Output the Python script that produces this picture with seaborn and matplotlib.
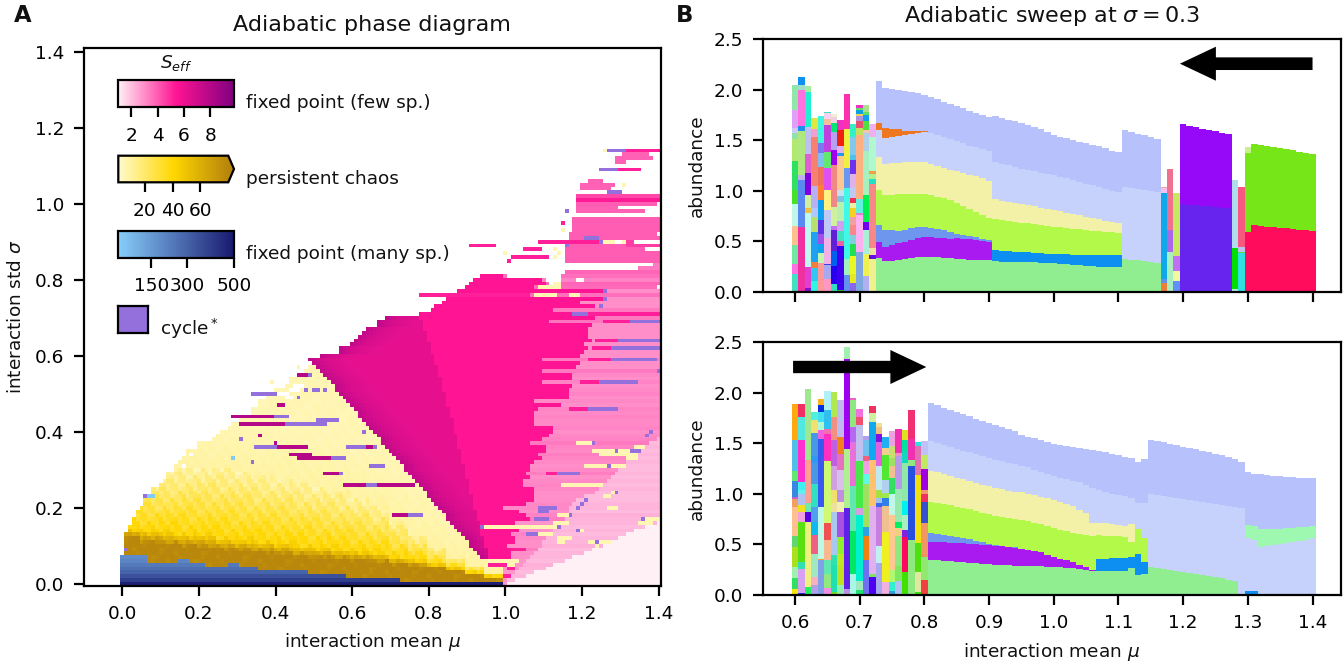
import numpy as np
import matplotlib
matplotlib.use("Agg")
import matplotlib.pyplot as plt
from matplotlib.cm import ScalarMappable
from matplotlib.colors import LinearSegmentedColormap, ListedColormap, Normalize
import seaborn as sns

# ---------- left panel data: rows are sigma*100, columns are mu*100 ----------
chaos_left = [0,0,0,0,0,0,0,0,1,1,1,1,1,1,2,2,3,3,4,4,5,6,6,7,8,8,10,11,12,12,14,14,15,16,17,17,20,20,24,25,
              26,28,29,31,32,34,34,36,36,38,39,40,43,44,44,47,48,49]
chaos_right = [100,100,100,100,100,100,100,94,93,92,91,91,90,89,88,87,86,85,85,84,83,82,81,80,80,79,78,77,76,75,
               74,74,73,72,71,70,69,68,68,67,66,65,64,63,62,62,61,60,59,58,57,56,56,55,54,53,52,51,50,49]
magenta_left = [52,57,57,60,61,62,63,64,67,67,69,78,81,82,84,85,86,88,90,91,92,94]
hot_right = [100,100,100,100,100,100,100,102,102,102,101,103,103,102,104,94,103,107,106,104,100,106,108,108,108,108,
             105,105,107,106,107,107,108,110,109,111,111,107,110,112,113,113,108,108,108,108,109,115,108,117,
             117,117,118,110,118,118,110,119,120,110,120,121,122,121,123,122,122,122,123,112,124,141,113,124,120,126,107,126,108,111,110,100]
deep_edge = [96,96,96,95,95,95,94,94,94,94,93,93,93,92,92,92,92,91,91,91,91,90,90,90,90,89,89,89,89,88,88,88,88,87,87,87,87,
             86,86,86,85,85,85,85,84,84,84,84,83,83,83,82,82,82,81,81,81,80,80,80,79,79,79,78]
pink_shade = [2.9,2.9,2.9,2.9,2.9,2.9,2.9,3.0,3.0,3.3,3.0,3.0,3.1,3.2,2.9,3.0,2.9,3.3,3.2,3.0,3.1,3.1,3.0,3.0,3.0,3.1,
              3.2,3.1,3.0,3.3,3.1,3.0,3.1,3.2,3.3,3.1,3.2,3.4,3.2,3.1,3.0,3.2,3.1,3.1,3.2,3.1,3.2,3.0,3.1,3.0,
              3.2,3.1,3.0,3.2,3.0,3.1,3.4,3.0,3.0,3.4,3.0,3.0,3.0,3.0,3.0,3.0,3.0,3.0,3.0,3.5,3.4,3.0,3.4,3.0,3.0,3.0,3.6,3.0,3.7,3.8,3.2,3.6]
light_left = [101,101,102,103,104,105,106,107,108,109,110,110,111,112,113,114,115,116,116,117,117,118,119,121,124,125,
              126,127,128,129,130,131,132,133,134,135,137,138,140]
light_shade = [2.1,2.1,2.2,2.1,2.2,2.3,2.1,2.2,2.2,2.1,2.3,2.2,2.2,2.1,2.2,2.1,2.2,2.2,2.3,2.1,2.2,2.2,2.1,2.1,2.1,2.2,
               2.1,2.2,2.1,2.2,2.1,2.1,2.2,2.1,2.2,2.1,2.2,2.1,2.2]
pale_left = [101,103,106,108,111,113,116,118,121,123,126,128,130,132,134,137,140]
edge_shade = [7.6,7.3,7.1,6.9,6.8,6.7,6.6,6.5,6.45,6.4,6.35]
deep_shade = 6.3
hot_shade = 5.45

blue_end = [7,15,18,22,28,31,36,49,59,73,100]
blue_top = [8,6,7,6,5,6,5,4,3,2,1]
blue_rows = [485,400,350,300,270,240,210,190]
brown_top = [12,10.5,10,9.6,9.2,8.6,8.2,7.8,7.2,6.8,6.4,6.2,5.9,5.5,4.8,4.6,4,3.2,2.4,1.6,1]
gold_top = [14.5,14,13.5,13,12.7,12,11.5,11.2,10.7,10,9.5,9,8.5,8,7,6.2,5.2,4.2,3,2,1.2]
fade_top = [27,29,30,31,31,31,30,29,28,27,26,25,23,21,17,13,10,7,5,3,2]
speckle = [0,3,-2,4,-3,1,-4,2,-1,3,-3,0,2,-2,4,-1,1,-4,3,-2,0,2,-3,1]

cycle_runs = [(55,49,50),(50,34,41),(51,48,49),(51,50,52),(51,53,54),(49,46,47),(44,40,44),(43,51,57),(42,43,54),
              (40,63,64),(38,31,32),(36,35,41),(36,59,64),(36,66,67),(33,55,59),(32,34,35),(31,65,69),(29,57,58),
              (26,64,67),(23,6,7),(9,1,2),(18,75,79),(62,128,141),(59,128,140),(56,140,141),(53,125,135),(46,122,130),
              (40,138,139),(39,137,138),(37,123,124),(35,129,130),(35,133,136),(31,127,128),(29,114,120),(24,129,130),
              (22,121,122),(21,120,121),(20,109,114),(20,119,120),(19,109,112),(18,117,118),(17,108,112),(17,136,137),
              (15,94,95),(15,114,115),(14,119,120),(13,106,109),(11,124,125),(114,127,132),(109,125,130),(103,127,131),
              (98,116,117),(91,121,125),(90,125,126),(89,116,117),(77,126,127),(75,126,127),(73,125,126),(71,118,122),
              (69,133,141),(64,130,141)]
cream_runs = [(37,119,123),(36,134,137),(35,123,129),(35,130,133),(34,125,135),(33,132,135),(31,121,127),(31,128,132),
              (26,115,126),(24,128,129),(23,126,128),(20,127,130),(18,114,117),(17,137,141),(16,113,117),(16,135,139),
              (15,95,114),(14,120,121),(13,109,113),(12,114,118),(11,114,116),(11,122,124),(11,125,128),(10,124,125),
              (6,96,104),(5,101,103),(76,108,114),(76,117,120),(78,109,115),(90,126,129),(90,131,132),(86,113,114),
              (88,113,114),(87,114,115),(93,115,116),(105,131,132),(114,126,127),(87,100,101),(81,106,107),(81,112,113),
              (79,113,115),(80,113,114),(57,46,47),(53,39,40),(45,34,35)]
blank_runs = [(81,101,115),(80,111,115),(79,112,113),(80,119,121),(78,140,141),(92,140,141),(31,16,17),(34,18,19),
              (50,41,44),(51,44,47),(52,45,48),(49,43,45)]
deep_runs = [(55,46,49),(47,41,43),(44,29,40),(42,31,43),(39,36,37),(37,40,41),(36,41,49),(36,64,66),(34,44,50),
             (33,46,55),(29,53,57),(26,58,64),(26,67,77),(18,71,75)]
hot_runs = [(114,132,141),(109,130,136),(90,109,125),(89,91,98),(88,105,110),(86,102,112),(85,101,102),(95,115,116),
            (76,78,107),(69,126,133),(64,124,130),(62,123,128),(59,122,128),(53,120,125),(46,117,122),(29,111,114),
            (9,102,106),(5,96,101),(4,101,103),(2,100,102),(71,122,141)]
pink_runs = [(113,131,138,3.9),(112,129,139,3.9),(111,129,132,3.9),(106,122,126,3.9),(105,120,129,3.9),(104,120,128,3.9),
             (102,119,141,4.4),(101,119,141,5.3),(100,119,140,4.0),(99,119,130,3.9),(98,119,137,3.9),(96,118,141,4.0),
             (95,118,141,4.0),(94,118,141,4.0),(93,118,141,4.0),(92,117,140,4.0),(91,117,121,4.0),(91,125,141,4.0),
             (89,117,132,4.0),(89,132,141,4.6),(88,116,137,4.0),(87,116,141,4.0),(86,116,141,4.0),(85,116,141,4.0),
             (84,139,141,3.4),(83,135,141,3.4),(82,116,141,3.8),(90,132,134,4.6)]

# ---------- right panels: mu axis and the smooth species stacks ----------
mu_bars = [round(0.6 + 0.01 * i, 2) for i in range(81)]

# upper panel: cumulative top per bar, bottom to top
up_green = [.333,.31,.31,.32,.33,.34,.345,.35,.35,.345,.34,.335,.33,.325,.32,.318,.315,.315,.305,.30,.30,.30,.30,.295,.295,.29,.285,.283,
            .28,.275,.27,.265,.26,.255,.25,.25,.245,.244,.326,.32,.315,.305,.295,.283]
up_dodger = [.415,.41,.405,.40,.40,.395,.39,.385,.38,.378,.375,.372,.37,.368,.365,.365,.365,.365,.365,.366]
up_purple = [.497,.448,.464,.48,.497,.514,.537,.543,.543,.537,.53,.525,.53,.525,.52,.515,.505,.497]
up_corn = [.662,.613,.61,.605,.615,.635,.64,.639,.636,.62,.61,.59,.573,.56,.55,.54,.525,.515]
up_lime = [1.01,.96,.96,.965,.965,.97,.97,.97,.955,.94,.925,.91,.876,.847,.818,.79,.76,.73,.72,.712,.70,.695,.685,.68,.672,.665,.655,.645,
           .64,.635,.625,.62,.612,.605,.60,.595,.59,.58]
up_khaki = [1.33,1.265,1.27,1.27,1.28,1.285,1.288,1.285,1.26,1.245,1.23,1.21,1.2,1.18,1.16,1.146,1.123,1.10,.92,.90,.89,.88,.868,.857,.845,.834,.822,.811,
            .80,.785,.772,.76,.745,.73,.718,.705,.69,.678]
up_peri = [1.60,1.518,1.528,1.54,1.55,1.56,1.574,1.58,1.568,1.55,1.535,1.51,1.49,1.47,1.44,1.43,1.41,1.39,1.288,1.265,1.25,1.235,1.22,1.21,1.195,1.18,1.17,1.156,
           1.14,1.125,1.11,1.09,1.07,1.055,1.04,1.02,1.0,.99,1.04,1.03,1.02,1.01,1.0,.99]
up_orange = [1.673,1.617,1.61,1.607,1.594,1.594,1.594,1.594]
up_lav = [2.085,2.02,2.01,1.996,1.986,1.98,1.963,1.947,1.924,1.904,1.88,1.858,1.838,1.815,1.79,1.77,1.75,1.726,1.74,1.716,1.70,1.693,1.67,1.65,1.63,1.61,1.58,1.55,
          1.535,1.52,1.50,1.485,1.47,1.455,1.44,1.42,1.39,1.387,1.60,1.585,1.565,1.55,1.53,1.512]
up_late_low = [.87,.864,.858,.852,.846,.84,.834,.827]
up_late_high = [1.657,1.645,1.63,1.615,1.60,1.59,1.575,1.56]
up_crimson = [.596,.659,.652,.646,.64,.634,.628,.622,.615,.61,.603]
up_leaf = [1.377,1.462,1.45,1.44,1.43,1.42,1.41,1.40,1.385,1.375,1.364]

# lower panel
lo_green = [.346,.342,.338,.334,.33,.325,.32,.315,.31,.305,.30,.296,.293,.29,.29,.288,.285,.283,.28,.277,.272,.267,.262,.257,.25,.237,
            .24,.24,.24,.24,.24,.27,.198,.207,.28,.27,.26,.25,.24,.23,.22,.21,.20,.19,.175,.165,.15,.138]
lo_dodger_a = [.356,.36,.362,.365,.37,.378,.402,.323]
lo_dodger_b = [.043,.035,.01]
lo_purple = [.527,.525,.52,.518,.515,.51,.505,.50,.495,.49,.485,.48,.47,.462,.45,.44,.43,.42,.40,.379,.36,.345,.325,.30,.275,.247]
lo_corn = [.61,.60,.59,.58,.57,.56,.55,.535,.52,.505,.49,.484,.475,.47]
lo_lime = [.922,.91,.90,.885,.87,.86,.845,.83,.815,.80,.785,.774,.76,.75,.74,.73,.715,.70,.68,.659,.645,.63,.615,.60,.59,.583,
           .59,.583,.58,.58,.577,.527,.65,.56]
lo_khaki = [1.229,1.215,1.20,1.18,1.16,1.145,1.125,1.11,1.09,1.075,1.06,1.045,1.03,1.02,1.014,1.0,.985,.97,.955,.939,.92,.90,.875,.84,.807,.715,
            .715,.71,.70,.695,.685,.70]
lo_peri = [1.525,1.50,1.485,1.465,1.445,1.425,1.41,1.39,1.37,1.35,1.335,1.32,1.305,1.29,1.275,1.26,1.235,1.22,1.20,1.176,1.16,1.145,1.13,1.115,1.085,1.054,
           1.04,1.02,1.0,.985,.975,.962,.912,.912,.995,.985,.975,.965,.955,.945,.935,.925,.915,.905,.895,.885,.875,.865,.86,
           .56,.54,.47,.48,.49,.50,.51,.52,.53,.545,.56]
lo_mint = [.692,.68,.649,.65,.652,.655,.66,.665,.67,.675,.682]
lo_lav = [1.90,1.875,1.85,1.83,1.81,1.785,1.765,1.74,1.72,1.70,1.68,1.66,1.64,1.62,1.58,1.565,1.55,1.535,1.515,1.492,1.48,1.47,1.46,1.45,1.44,1.433,
          1.42,1.41,1.395,1.38,1.36,1.35,1.317,1.344,1.53,1.52,1.51,1.495,1.48,1.465,1.45,1.44,1.425,1.41,1.395,1.38,1.36,1.34,1.314,
          1.212,1.20,1.192,1.187,1.18,1.175,1.17,1.165,1.16,1.157,1.155]

# chaotic bars: cumulative tops and colours for each mu, bottom to top
up_chaos_tops = [
    [.01,.18,.28,.46,.65,.87,1.01,1.29,1.51,1.57,1.62,1.80,2.05],
    [.64,1.11,1.16,1.59,1.64,2.0,2.05,2.12],
    [.04,.25,.78,.83,.96,1.18,1.36,1.63,1.98,2.04],
    [.11,.24,.30,.59,.74,.83,1.05,1.53,1.61,1.72],
    [.29,.39,.47,.57,.71,.91,1.06,1.24,1.37,1.47,1.74],
    [.125,.27,.28,.53,.81,1.01,1.23,1.38,1.65,1.71,1.77,1.78],
    [.08,.26,.41,.61,.65,.84,1.25,1.40,1.58,1.67,1.73,1.76],
    [.02,.45,.50,.60,.70,.89,.95,1.01,1.34,1.37,1.44,1.60,1.70],
    [.17,.33,1.03,1.23,1.61,1.96],
    [.09,.18,.36,.47,.56,.66,.74,.83,.88,.93,1.04,1.17,1.30,1.35,1.53,1.66],
    [.40,.76,.78,.92,1.55,1.62,1.69,1.74,1.76,1.80,1.82,1.85],
    [.16,.38,.61,.69,.96,1.39,1.57,1.60,1.69,1.75,1.78,1.85],
    [.33,.37,.43,1.07,1.12,1.17,1.20,1.53,1.66],
]
up_chaos_colors = [
    ["#f0a030","#40e0c0","#ff70e0","#70e8a0","#ffc090","#c0f8e8","#48e028","#30e060","#b0e870","#90e0b0","#d0c8f8","#e0a0f8","#90e8a8"],
    ["#f030a0","#5888f0","#c0b0f0","#b0e880","#2090f0","#ff70e0","#a0e0c8","#1090f0"],
    ["#8010d0","#e040d0","#c0f8f0","#f0c040","#d0f0a0","#8000e0","#e060d0","#c0c0f0","#20f0d0","#a0f0a0"],
    ["#30f8e0","#30c8f0","#f08040","#20a0f0","#b8e070","#b0c8ff","#b8b0f0","#f88070","#f0a0d0","#e0e840"],
    ["#ff9898","#c0f8b0","#10a0f0","#a050e8","#6030e8","#10a0f0","#ff8030","#f07060","#80c0f0","#7878f0","#40f8e0"],
    ["#ff98c0","#a8a8f0","#4040e0","#f0b0e8","#c0c8f8","#fff080","#e050f0","#60e870","#c040e0","#f0c0a0","#f8d0f0","#40e0c0"],
    ["#30e0c0","#2800f0","#0060f0","#6020d8","#c070f0","#d0f0a0","#f08888","#a000f0","#b8a0f0","#00e870","#f0d0e0","#f0f0d0"],
    ["#30c030","#4000f0","#f060a0","#40e0c0","#d0a0f0","#b8f0b0","#80c0e0","#c8e0f0","#ffc890","#2098f0","#e0b0f0","#f02010","#f030c0"],
    ["#6090f0","#a0f0c0","#40f8e8","#6898f0","#f0f040","#ff30b0"],
    ["#8868e8","#e8e820","#e8f820","#20e050","#80d0e0","#f88888","#f0a0a0","#f8d020","#f0f0a0","#f03050","#c0c8f0","#e0b0e8","#7030f0","#50c0f0","#80c8f0","#30f0c8"],
    ["#80a8e0","#ffb0f0","#e080d0","#60f0e0","#ffb080","#c0e060","#e85070","#b090e0","#f0d060","#10a0e0","#60e060","#f030c0"],
    ["#b0b0f0","#f0f050","#a8f0d8","#7000f0","#00f050","#a8f0c0","#b0d0e8","#f0c8b0","#50e040","#10a0f0","#60e060","#a8e090"],
    ["#f0f090","#6010e0","#f0e0a0","#f88888","#20e0c8","#b0f090","#f0a040","#b0f8d0","#f0b0f0"],
]
lo_chaos_tops = [
    [.06,.165,.28,.47,.58,.87,.945,.965,1.13,1.225,1.53,1.89],
    [.02,.26,.33,.725,.82,.89,1.0,1.04,1.12,1.53,1.76,1.89],
    [.075,.725,.82,.905,1.33,2.04],
    [.10,.18,.41,.59,.725,.87,1.10,1.30,1.37,1.60,1.73,1.81],
    [.345,.36,.43,.87,1.54,1.63,1.71,1.81,1.88,1.94],
    [.065,.21,.345,.54,.71,1.32,1.59,1.64,1.83,2.02],
    [.03,.30,.395,.82,.905,1.04,1.27,1.53,1.76,1.82,2.01],
    [.10,.30,.41,.57,.82,.915,1.04,1.24,1.39,1.56,1.93],
    [.055,.86,1.44,2.33,2.45],
    [.21,.63,1.08,1.515,1.66,1.93,1.95],
    [.05,.14,.79,.855,1.32,1.68,1.76,1.835],
    [.35,.58,.675,1.10,1.20,1.32,1.37,1.53,1.57],
    [.175,.205,.88,1.33,1.71,1.80,1.87],
    [.32,.48,.87,.905,.955,1.04,1.275,1.515,1.59,1.66,1.70],
    [.13,.62,.88,.955,1.01,1.14,1.38,1.45,1.565],
    [.04,.13,.25,.79,1.0,1.16,1.27,1.35,1.47,1.62],
    [.14,.29,.58,.66,.725,1.05,1.37,1.40,1.64],
    [.23,.57,.64,.79,.93,1.30,1.41,1.53,1.63],
    [.01,.54,1.275,1.33,1.54,1.83],
    [.03,.23,.51,1.19,1.47,1.515],
    [.15,.38,.41,.715,.915,.995,1.04,1.25,1.38,1.525],
]
lo_chaos_colors = [
    ["#f0e810","#30e060","#a0f0b0","#a8e020","#60d870","#ffc090","#f0a060","#c060d0","#3888e0","#60e870","#50c0e8","#ffa810"],
    ["#3030e0","#d8a0f0","#30e0b0","#58e010","#f0a0e0","#f0e020","#b0c0f0","#60f0f0","#40f0f0","#ff30d0","#50e8e0","#f03060"],
    ["#20f060","#f0f080","#5000e0","#70e8b0","#ffa090","#a0e890"],
    ["#b0a0e8","#f8b0c0","#a0e8c0","#f06080","#10b8f0","#50a0f0","#30e0c0","#4898e8","#3098f0","#4898e8","#f0e070","#50f0e0"],
    ["#80a0e8","#f8a040","#c0f8e0","#c0f8e8","#3858f0","#f060e0","#b0f8d0","#40e0f0","#0030e0","#ffb020"],
    ["#f090e0","#90e880","#60e8b0","#f8b890","#f05050","#d0f870","#ff30c0","#f070b0","#30c0f0","#b0f0f8"],
    ["#70e020","#20e0b0","#30e0b0","#a8c8f0","#f0e0a0","#f0e070","#d0a0e0","#c060e0","#f09080","#b0e850","#b0e850"],
    ["#90f0b0","#c0e020","#c0e820","#90f030","#a850e0","#f0f0b0","#c090e0","#d8c0e8","#e870c0","#f08020","#c0b8f0"],
    ["#c090e8","#6020e8","#b0f090","#a000f0","#a0f0b0"],
    ["#a8f8e8","#00e860","#60e8b0","#e870d8","#b868f0","#90e880","#f060c0"],
    ["#20e070","#a0e8c0","#00f0d0","#d0a0e0","#48e848","#c0c0f0","#f05070","#f070e0"],
    ["#7070f0","#f08010","#30a0e0","#a0e060","#60f8e0","#f0a0e0","#f06080","#70c0f0","#b0a0e8"],
    ["#5000f0","#80e060","#e0b0f0","#ffc070","#10a8f0","#d0f0a0","#f03060"],
    ["#a8a8f0","#c0f0f0","#c880e0","#3868f0","#a0c0f0","#a8e040","#c0e8f0","#e060e0","#8010e0","#f0c080","#f0e090"],
    ["#f0b0e0","#f0f020","#f0c090","#3080e8","#a0e850","#b0d0f0","#50e830","#f0d090","#20b0f0"],
    ["#30a0e0","#30f0d0","#b0f870","#ffc890","#c0f8e8","#30e060","#f0c090","#a0e060","#c8e070","#f0a0e0"],
    ["#b0c0f0","#80e860","#90e880","#f0d080","#00f060","#98e8b0","#b898e8","#f090c0","#f030b0"],
    ["#40e000","#ff0860","#8020e0","#a8f0c0","#00f0f0","#90e8a8","#10d8c0","#00e0a0","#e0e020"],
    ["#20c0b0","#90e880","#2850e0","#90e880","#f030b0","#f03070"],
    ["#40e010","#e0e8a0","#50e010","#f0e010","#e070b0","#30e0e0"],
    ["#f04040","#90e870","#f09060","#f09860","#3850d0","#f03060","#f09870","#a000e0","#c0e860","#c0c0f8"],
]
# single-column groups right of the smooth upper stack
up_late_tops = [[.092,.13,.975,1.024,1.04],[.40,.613,1.212],[.11,.21,.356,.975],
                [.026,.43,1.107],[.39,.40,.44,1.04]]
up_late_colors = [["#e8803a","#6090f0","#10a8e8","#f5c0f0","#f8a0a0"],["#a8f0c0","#a868e8","#f07090"],
                  ["#6090f8","#f0f8a0","#c070f0","#c8e860"],["#b0f0d0","#00e000","#b0dcf0"],
                  ["#30e0e0","#50e050","#c0c0f0","#f85880"]]
up_late_mu = [1.17,1.18,1.19,1.28,1.29]

# ---------- combined colour scale for the heatmap ----------
few_cmap = LinearSegmentedColormap.from_list("few", ["lavenderblush", "deeppink", "purple"])
chaos_cmap = LinearSegmentedColormap.from_list("chaos", ["lemonchiffon", "gold", "darkgoldenrod"])
many_cmap = LinearSegmentedColormap.from_list("many", ["lightskyblue", "midnightblue"])
cycle_color = "mediumpurple"
few_norm = Normalize(1, 9.8)
chaos_norm = Normalize(1, 80)
many_norm = Normalize(10, 500)

def few(s):
    return 0.995 * few_norm(s)

def chaos(c):
    return 1 + 0.995 * float(np.clip(chaos_norm(c), 0, 1))

def many(m):
    return 2 + 0.995 * many_norm(m)

CYCLE = 3.0
steps = np.linspace(0, 1, 256)
full_cmap = ListedColormap(np.vstack([few_cmap(steps), chaos_cmap(steps), many_cmap(steps),
                                      [matplotlib.colors.to_rgba(cycle_color)]]))

# ---------- fill the phase grid ----------
grid = np.full((115, 141), np.nan)

for r, (c0, c1) in enumerate(zip(chaos_left, chaos_right)):
    for c in range(c0, c1):
        k = c // 5
        level = np.interp(r, [brown_top[k], gold_top[k], fade_top[k], fade_top[k] + 12], [82, 40, 9, 6])
        level += speckle[(r * 7 + c * 5) % len(speckle)] * (1.5 if level > 10 else 0.25)
        grid[r, c] = chaos(level)
        if c < blue_end[-1] and r < blue_top[np.searchsorted(blue_end, c, side="right")]:
            grid[r, c] = many(blue_rows[r])

for r in range(len(hot_right)):
    left = chaos_right[r] if r < len(chaos_right) else magenta_left[r - 60]
    if r >= 60:
        left = magenta_left[r - 60]
    if r >= 7:
        edge = deep_edge[r - 7] if r - 7 < len(deep_edge) else 0
        for c in range(left, hot_right[r]):
            if c < edge:
                off = c - left
                grid[r, c] = few(edge_shade[off] if off < len(edge_shade) else deep_shade)
            else:
                grid[r, c] = few(hot_shade)
    grid[r, hot_right[r]:141] = few(pink_shade[r])

for r, c0 in enumerate(light_left):
    grid[r, max(c0, hot_right[r]):141] = few(light_shade[r])
for r, c0 in enumerate(pale_left):
    grid[r, c0:141] = few(1.0)

for r, c0, c1, s in pink_runs:
    grid[r, c0:c1] = few(s)
for r, c0, c1 in hot_runs:
    grid[r, c0:c1] = few(5.2)
for r, c0, c1 in deep_runs:
    grid[r, c0:c1] = few(8.0)
for r, c0, c1 in cream_runs:
    grid[r, c0:c1] = chaos(6)
for r, c0, c1 in cycle_runs:
    grid[r, c0:c1] = CYCLE
for r, c0, c1 in blank_runs:
    grid[r, c0:c1] = np.nan
grid[33, 29] = many(20)
grid[23, 7:9] = many(20)

# ---------- figure ----------
FS = 6.65
sns.set_theme(style="ticks", rc={
    "font.family": "DejaVu Sans", "font.size": FS, "axes.titlesize": 8.0, "axes.labelsize": FS,
    "xtick.labelsize": FS, "ytick.labelsize": FS, "axes.edgecolor": "black", "axes.linewidth": 0.8,
    "xtick.major.size": 3.5, "ytick.major.size": 3.5, "xtick.major.width": 0.8, "ytick.major.width": 0.8,
    "xtick.color": "black", "ytick.color": "black", "text.color": "#111111", "axes.labelcolor": "#111111",
    "mathtext.default": "it",
})

W, H = 1344, 664
fig = plt.figure(figsize=(W / 200, H / 200), dpi=200)

def px_axes(left, top, right, bottom):
    return fig.add_axes([left / W, 1 - bottom / H, (right - left) / W, (bottom - top) / H])

# panel A
ax = px_axes(84, 48, 660.5, 585.5)
sns.heatmap(grid, cmap=full_cmap, vmin=0, vmax=769 / 256, cbar=False, ax=ax, xticklabels=False, yticklabels=False)
ax.set_xlim(0.5 - 10, 0.5 + 140.5)
ax.set_ylim(0, 141.5)
mu_ticks = [0.0, 0.2, 0.4, 0.6, 0.8, 1.0, 1.2, 1.4]
ax.set_xticks([t * 100 + 0.5 for t in mu_ticks], [f"{t:.1f}" for t in mu_ticks], rotation=0)
ax.set_yticks([t * 100 + 0.5 for t in mu_ticks], [f"{t:.1f}" for t in mu_ticks], rotation=0)
ax.tick_params(left=True, bottom=True, pad=3.5)
for s in ax.spines.values():
    s.set_visible(True)
ax.set_xlabel(r"interaction mean $\mu$", labelpad=3)
ax.set_ylabel(r"interaction std $\sigma$", labelpad=3.5)
ax.set_title("Adiabatic phase diagram", pad=6)

# colour key
key_specs = [(80, 107.3, few_cmap, few_norm, [2, 4, 6, 8], "neither"),
             (155.7, 182.3, chaos_cmap, chaos_norm, [20, 40, 60], "max"),
             (231, 257.7, many_cmap, many_norm, [150, 300, 500], "neither")]
for top, bottom, cmap, norm, ticks, ext in key_specs:
    cax = px_axes(118.3, top, 234, bottom)
    cb = fig.colorbar(ScalarMappable(norm=norm, cmap=cmap), cax=cax, orientation="horizontal",
                      ticks=ticks, extend=ext, extendfrac=0.052)
    cb.ax.tick_params(labelsize=FS, length=3.5, width=0.8, pad=3.5)
    cb.outline.set_linewidth(0.8)
    cb.minorticks_off()

box = px_axes(118.3, 306, 148, 333)
box.set_facecolor(cycle_color)
box.set_xticks([])
box.set_yticks([])
for s in box.spines.values():
    s.set_linewidth(0.8)

fig.text(176 / W, 1 - 63 / H, r"$S_{eff}$", ha="center", va="center", fontsize=FS)
for txt, x, y in [("fixed point (few sp.)", 245.5, 103), ("persistent chaos", 245.5, 179),
                  ("fixed point (many sp.)", 245.5, 254), (r"cycle$^*$", 160, 329)]:
    fig.text(x / W, 1 - y / H, txt, ha="left", va="center", fontsize=FS)

fig.text(14 / W, 1 - 16 / H, "A", fontsize=8.2, fontweight="bold", ha="left", va="center")
fig.text(676 / W, 1 - 16 / H, "B", fontsize=8.2, fontweight="bold", ha="left", va="center")

# panel B
def stack_layer(ax, cur, first_mu, tops, color):
    idx = [mu_bars.index(round(first_mu + 0.01 * i, 2)) for i in range(len(tops))]
    mus = [mu_bars[i] for i in idx]
    heights = [t - cur[i] for t, i in zip(tops, idx)]
    ax.bar(mus, heights, width=0.01, bottom=[cur[i] for i in idx], color=color, linewidth=0, antialiased=False)
    for t, i in zip(tops, idx):
        cur[i] = t

def chaos_bar(ax, mu, tops, colors):
    bottom = 0
    for t, col in zip(tops, colors):
        ax.bar(mu, t - bottom, width=0.01, bottom=bottom, color=col, linewidth=0, antialiased=False)
        bottom = t

LGREEN, DODGER, PURPLE, CORN, LIME, KHAKI, PERI, LAV = ("#90ee90", "#0c8ff0", "#a91af0", "#6f96ee", "#b2f94a",
                                                        "#f3f1a8", "#c6d2fc", "#b7c1fc")
xlim_b = (0.5505, 1.444)
xticks_b = [0.6, 0.7, 0.8, 0.9, 1.0, 1.1, 1.2, 1.3, 1.4]

ax_up = px_axes(763, 39, 1341, 292)
for i, (tops, cols) in enumerate(zip(up_chaos_tops, up_chaos_colors)):
    chaos_bar(ax_up, mu_bars[i], tops, cols)
cur = np.zeros(len(mu_bars))
stack_layer(ax_up, cur, 0.73, up_green, LGREEN)
stack_layer(ax_up, cur, 0.91, up_dodger, DODGER)
stack_layer(ax_up, cur, 0.73, up_purple, PURPLE)
stack_layer(ax_up, cur, 0.73, up_corn, CORN)
stack_layer(ax_up, cur, 0.73, up_lime, LIME)
stack_layer(ax_up, cur, 0.73, up_khaki, KHAKI)
stack_layer(ax_up, cur, 0.73, up_peri, PERI)
stack_layer(ax_up, cur, 0.73, up_orange, "#ee7722")
stack_layer(ax_up, cur, 0.73, up_lav, LAV)
for mu, tops, cols in zip(up_late_mu, up_late_tops, up_late_colors):
    chaos_bar(ax_up, mu, tops, cols)
stack_layer(ax_up, cur, 1.20, up_late_low, "#6624ee")
stack_layer(ax_up, cur, 1.20, up_late_high, "#9608f8")
stack_layer(ax_up, cur, 1.30, up_crimson, "#ff0c5c")
stack_layer(ax_up, cur, 1.30, up_leaf, "#76e618")
ax_up.bar(1.30, 0.06, width=0.01, bottom=1.377, color="#c8f090", linewidth=0, antialiased=False)
ax_up.arrow(1.4, 2.256, -0.205, 0, width=0.125, head_width=0.336, head_length=0.0556,
            length_includes_head=True, color="black", linewidth=0)
ax_up.set_title(r"Adiabatic sweep at $\sigma = 0.3$", pad=6)
ax_up.set_xticklabels([])

ax_lo = px_axes(763, 342, 1341, 595)
for i, (tops, cols) in enumerate(zip(lo_chaos_tops, lo_chaos_colors)):
    chaos_bar(ax_lo, mu_bars[i], tops, cols)
cur = np.zeros(len(mu_bars))
stack_layer(ax_lo, cur, 0.81, lo_green, LGREEN)
stack_layer(ax_lo, cur, 1.07, lo_dodger_a, DODGER)
stack_layer(ax_lo, cur, 1.30, lo_dodger_b, DODGER)
stack_layer(ax_lo, cur, 0.81, lo_purple, PURPLE)
stack_layer(ax_lo, cur, 0.81, lo_corn, CORN)
stack_layer(ax_lo, cur, 0.81, lo_lime, LIME)
stack_layer(ax_lo, cur, 0.81, lo_khaki, KHAKI)
stack_layer(ax_lo, cur, 0.81, lo_peri, PERI)
stack_layer(ax_lo, cur, 1.30, lo_mint, "#9ff8b0")
stack_layer(ax_lo, cur, 0.81, lo_lav, LAV)
ax_lo.arrow(0.597, 2.253, 0.206, 0, width=0.122, head_width=0.336, head_length=0.0556,
            length_includes_head=True, color="black", linewidth=0)
ax_lo.set_xlabel(r"interaction mean $\mu$", labelpad=3)

for a in (ax_up, ax_lo):
    a.set_xlim(*xlim_b)
    a.set_ylim(0, 2.5)
    a.set_xticks(xticks_b)
    a.set_yticks([0, 0.5, 1.0, 1.5, 2.0, 2.5])
    a.set_ylabel("abundance", labelpad=3)
ax_lo.set_xticklabels([f"{t:.1f}" for t in xticks_b])
ax_up.set_yticklabels(["0.0", "0.5", "1.0", "1.5", "2.0", "2.5"])
ax_lo.set_yticklabels(["0.0", "0.5", "1.0", "1.5", "2.0", "2.5"])

fig.savefig("out.png", dpi=200)
